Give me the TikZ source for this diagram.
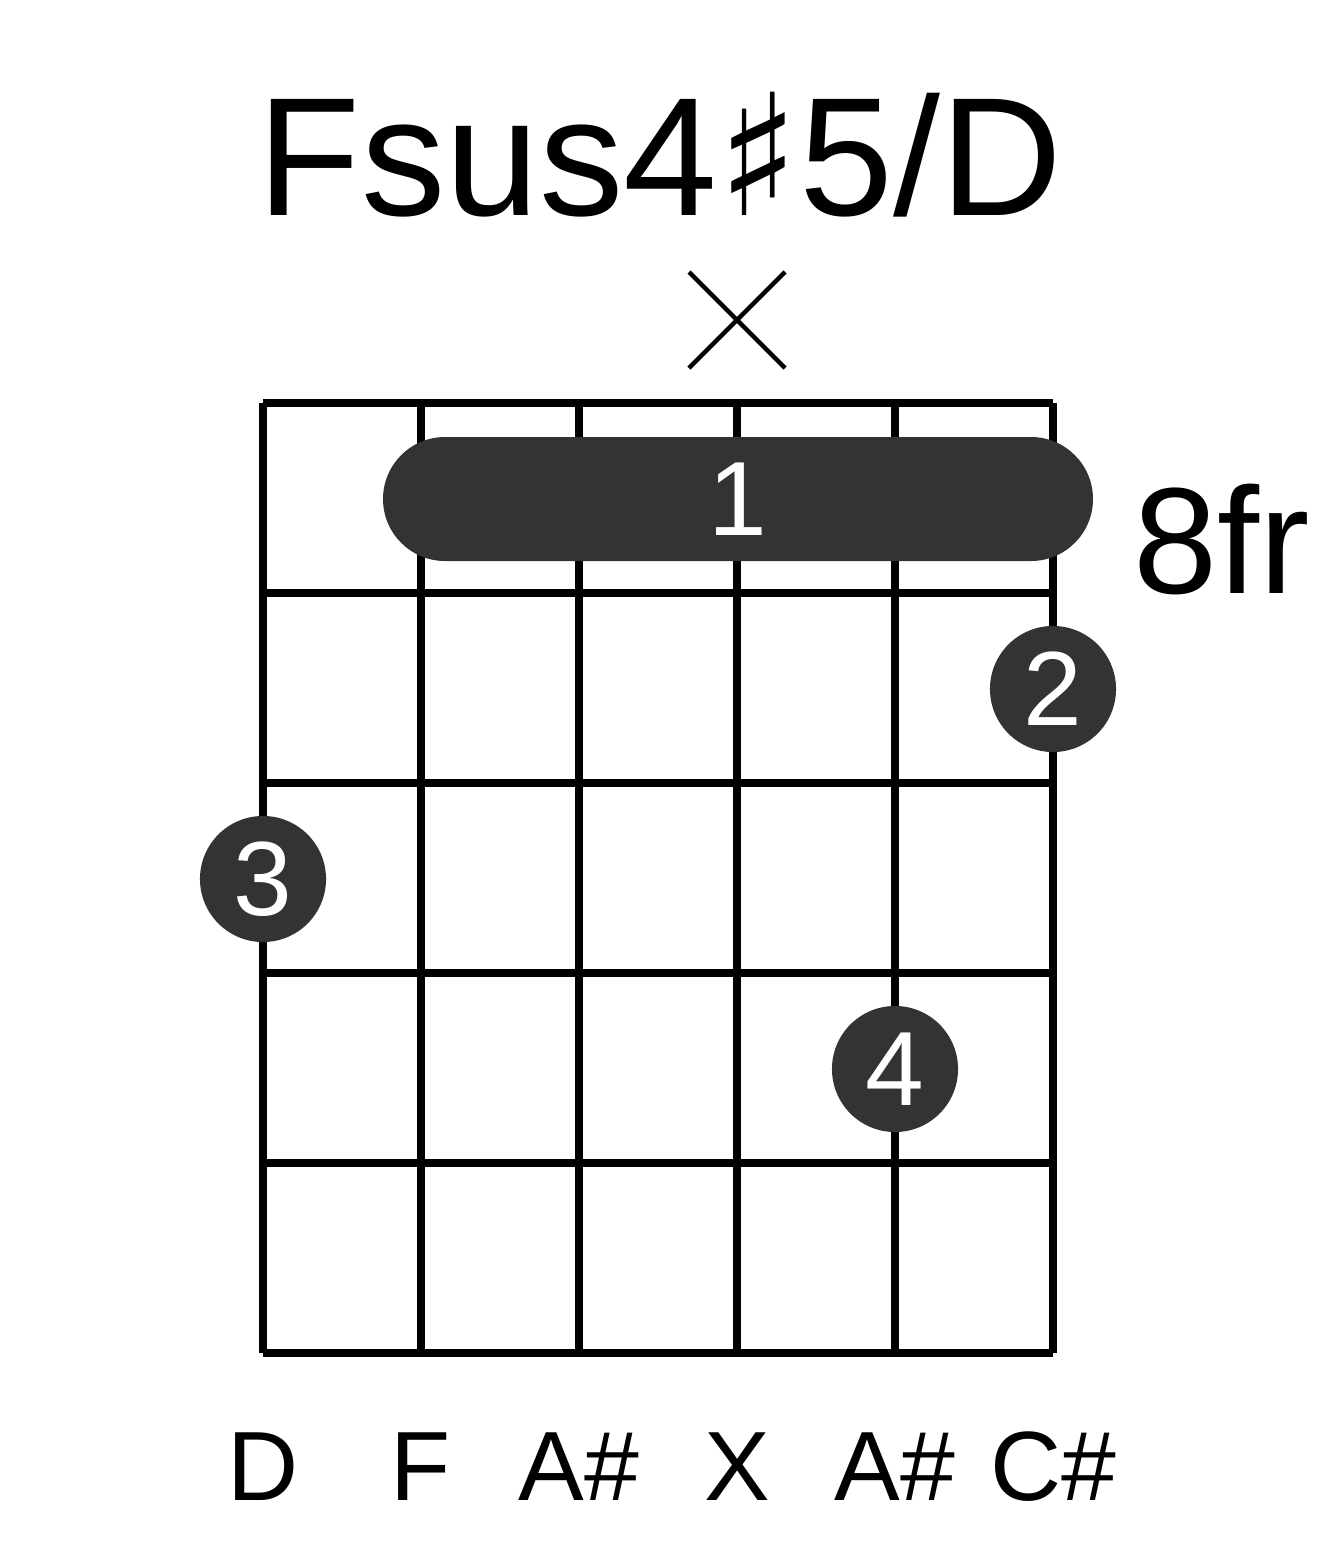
\documentclass[tikz,border=0pt]{standalone}
\usepackage{fontspec}
\setmainfont{Liberation Sans}
\newfontfamily\symfont{DejaVu Sans}
\usetikzlibrary{positioning}
\definecolor{dotgray}{HTML}{333333}
\begin{document}
\begin{tikzpicture}[
    x=0.01cm, y=-0.01cm,
    finger/.style={circle, fill=dotgray, minimum size=1.26cm, inner sep=0pt,
        text=white, font=\fontsize{30}{30}\selectfont},
    notename/.style={font=\fontsize{28}{28}\selectfont}
]
\useasboundingbox (0,0) rectangle (1317,1551);

% title and fret number
\node (title) at (660,155) {\fontsize{48}{48}\selectfont Fsus4{\symfont\char"266F}5/D};
\node (fret) at (1222,540) {\fontsize{43}{43}\selectfont 8fr};

% grid
\foreach \s in {0,...,5}
    \draw[line width=2.2pt] (263+158*\s,403) -- (263+158*\s,1353);
\foreach \f in {0,...,5}
    \draw[line width=2.2pt] (263,403+190*\f) -- (1053,403+190*\f);

% muted string
\draw[line width=1.3pt] (689,272) -- (785,368) (689,368) -- (785,272);

% barre
\fill[dotgray, rounded corners=0.62cm] (383,437) rectangle (1093,561);
\node[text=white, font=\fontsize{30}{30}\selectfont] (barre) at (738,499) {1};

% fingers
\node[finger] (two) at (1053,689) {2};
\node[finger] (three) at (263,879) {3};
\node[finger] (four) at (895,1069) {4};

% note names
\foreach \n [count=\i from 0] in {D,F,A\#,X,A\#,C\#}
    \node[notename] (note\i) at (263+158*\i,1467) {\n};
\end{tikzpicture}
\end{document}
